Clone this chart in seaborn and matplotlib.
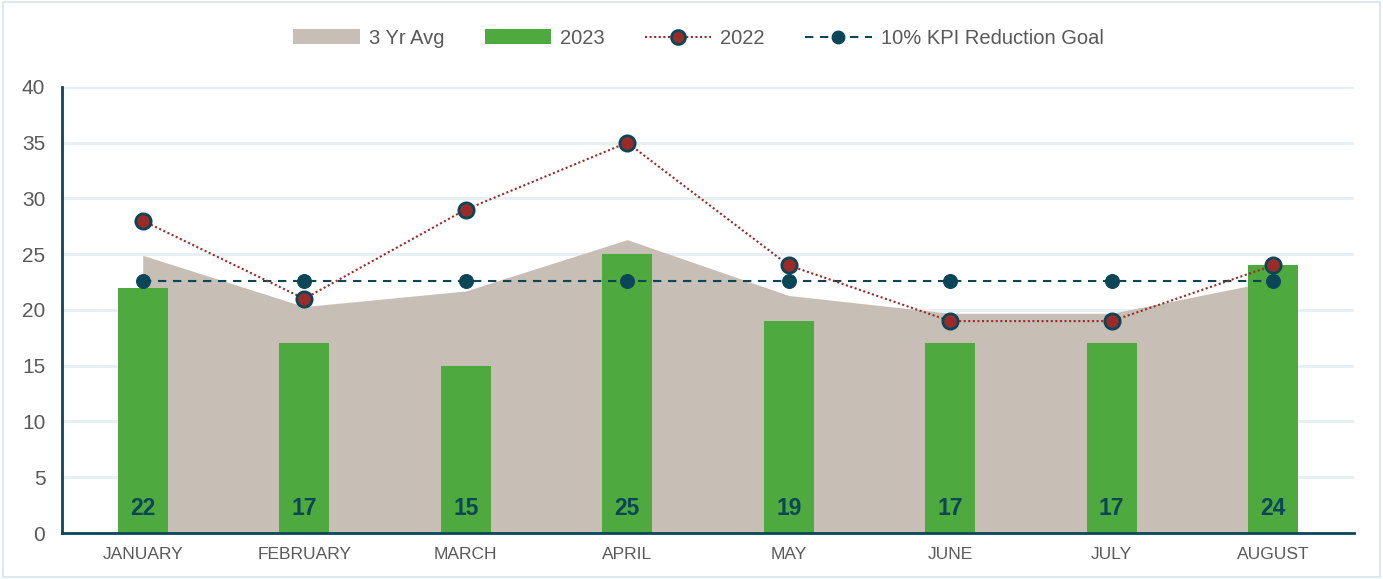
import numpy as np
import pandas as pd
import seaborn as sns
import matplotlib.pyplot as plt
from matplotlib.patches import Patch, Rectangle
from matplotlib.lines import Line2D

# chart data
months = ["JANUARY", "FEBRUARY", "MARCH", "APRIL", "MAY", "JUNE", "JULY", "AUGUST"]
avg_3yr = [24.9, 20.3, 21.7, 26.3, 21.3, 19.7, 19.7, 22.6]
y2023 = [22, 17, 15, 25, 19, 17, 17, 24]
y2022 = [28, 21, 29, 35, 24, 19, 19, 24]
kpi_goal = [22.6] * 8
y_ticks = [0, 5, 10, 15, 20, 25, 30, 35, 40]

df = pd.DataFrame({"month": months, "idx": np.arange(len(months)),
                   "avg": avg_3yr, "y2023": y2023, "y2022": y2022, "kpi": kpi_goal})

teal = "#0b4658"
green = "#4ea93e"
taupe = "#c7bfb5"
red = "#9b2b28"
grey = "#595959"

sns.set_style("white")
plt.rcParams["font.family"] = ["Liberation Sans", "DejaVu Sans"]

fig = plt.figure(figsize=(13.83, 5.79), dpi=100)
ax = fig.add_axes([0.0448, 0.0794, 0.9342, 0.7706])

# 3 yr average as area behind everything
ax.fill_between(df["idx"], df["avg"], 0, color=taupe, linewidth=0, zorder=0.8)

# 2023 bars
sns.barplot(data=df, x="month", y="y2023", order=months, color=green,
            saturation=1, width=0.31, linewidth=0, edgecolor="none", ax=ax, zorder=2)

# KPI goal
sns.lineplot(data=df, x="idx", y="kpi", ax=ax, color=teal, linestyle=(0, (4, 3.2)),
             linewidth=1.5, marker="o", markersize=10, markerfacecolor=teal,
             markeredgecolor=teal, zorder=3)

# 2022 line
sns.lineplot(data=df, x="idx", y="y2022", ax=ax, color=red, linestyle=(0, (1, 1.2)),
             linewidth=1.5, marker="o", markersize=11, markerfacecolor=red,
             markeredgecolor=teal, markeredgewidth=2, zorder=4)

# value labels at the foot of the bars
for i, v in enumerate(y2023):
    ax.text(i, 2.2, str(v), ha="center", va="center", fontsize=16.5,
            fontweight="bold", color=teal, zorder=5)

ax.set_xlim(-0.5, 7.5)
ax.set_ylim(0, 40)
ax.set_yticks(y_ticks)
ax.set_xlabel("")
ax.set_ylabel("")
ax.grid(axis="y", color="#e6eff4", linewidth=2)
ax.set_axisbelow(True)

for s in ["top", "right"]:
    ax.spines[s].set_visible(False)
for s in ["left", "bottom"]:
    ax.spines[s].set_color(teal)
    ax.spines[s].set_linewidth(2)

ax.tick_params(axis="y", direction="in", length=6, width=2, color=teal,
               labelsize=15, labelcolor=grey, pad=12)
ax.tick_params(axis="x", length=0, labelsize=12.5, labelcolor=grey, pad=10)

handles = [
    Patch(facecolor=taupe, edgecolor="none", label="3 Yr Avg"),
    Patch(facecolor=green, edgecolor="none", label="2023"),
    Line2D([], [], color=red, linestyle=(0, (1, 1.2)), linewidth=1.5, marker="o",
           markersize=10, markerfacecolor=red, markeredgecolor=teal,
           markeredgewidth=2, label="2022"),
    Line2D([], [], color=teal, linestyle=(0, (4, 3.2)), linewidth=1.5, marker="o",
           markersize=9, markerfacecolor=teal, markeredgecolor=teal,
           label="10% KPI Reduction Goal"),
]
fig.legend(handles=handles, loc="center", bbox_to_anchor=(0.505, 0.934), ncol=4,
           frameon=False, fontsize=14.5, handlelength=3.3, handleheight=0.75,
           columnspacing=2.0, handletextpad=0.45, labelcolor=grey)

# light frame around the whole chart
fig.patches.append(Rectangle((0.002, 0.003), 0.996, 0.994, transform=fig.transFigure,
                             fill=False, edgecolor="#dce8ef", linewidth=1.5))

fig.savefig("out.png", dpi=100)
